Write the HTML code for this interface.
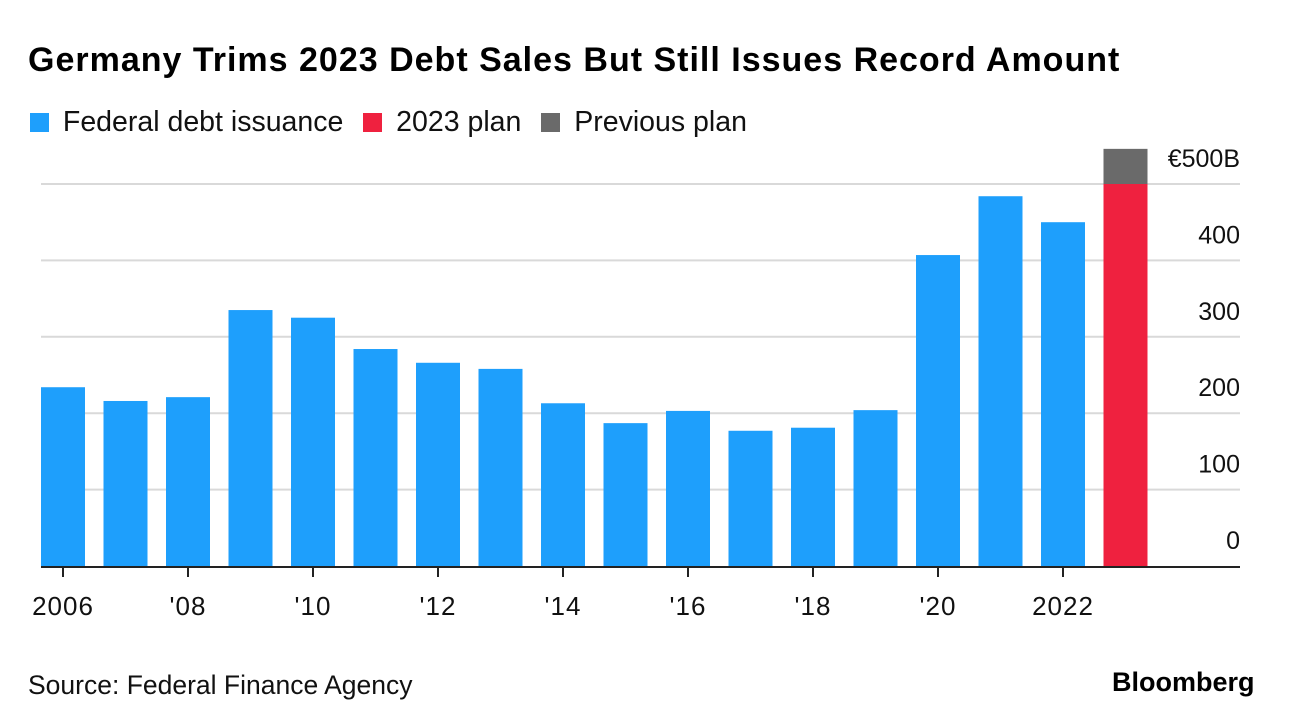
<!DOCTYPE html>
<html><head><meta charset="utf-8"><style>
body{margin:0;width:1292px;height:726px;background:#fff;font-family:"Liberation Sans",sans-serif;overflow:hidden;position:relative}
.t{position:absolute;white-space:nowrap}
</style></head><body>
<div class="t" style="left:28px;top:41px;font-size:34px;font-weight:bold;color:#000;letter-spacing:1px">Germany Trims 2023 Debt Sales But Still Issues Record Amount</div>
<div class="t" style="left:30px;top:106px;font-size:28.5px;color:#111">
<span><span style="display:inline-block;width:19px;height:19px;background:#1e9ffc;vertical-align:-1px;margin-right:6px"></span> Federal debt issuance</span>
<span style="margin-left:12px"><span style="display:inline-block;width:19px;height:19px;background:#ef213f;vertical-align:-1px;margin-right:6px"></span> 2023 plan</span>
<span style="margin-left:12px"><span style="display:inline-block;width:19px;height:19px;background:#6a6a6a;vertical-align:-1px;margin-right:6px"></span> Previous plan</span>
</div>
<svg id="chart" width="1292" height="726" style="position:absolute;left:0;top:0"></svg>
<div class="t" style="left:28px;top:670px;font-size:26.5px;color:#111">Source: Federal Finance Agency</div>
<div class="t" style="left:1112px;top:667px;font-size:27px;font-weight:bold;color:#000;letter-spacing:0px">Bloomberg</div>
<script>
const years=[2006,2007,2008,2009,2010,2011,2012,2013,2014,2015,2016,2017,2018,2019,2020,2021,2022];
const issuance=[234,216,221,335,325,284,266,258,213,187,203,177,181,204,407,484,450];
const planYear=2023;
const plan2023=[500];
const previousPlan=[546];
const yTicks=[0,100,200,300,400,500];
const yTickLabels=["0","100","200","300","400","€500B"];
const xTickYears=[2006,2008,2010,2012,2014,2016,2018,2020,2022];
const xTickLabels=["2006","'08","'10","'12","'14","'16","'18","'20","2022"];
const NS="http://www.w3.org/2000/svg";
const svg=document.getElementById('chart');
const y0=566,pxPer=(566-184)/500;
const y=v=>y0-v*pxPer;
const bw=44,step=62.5;
const x=yr=>41+(yr-2006)*step;
function mk(t,a){const e=document.createElementNS(NS,t);for(const k in a)e.setAttribute(k,a[k]);svg.appendChild(e);return e;}
yTicks.forEach((v,i)=>{
 if(v>0){const l=mk('line',{x1:41,x2:1240,y1:y(v),y2:y(v),stroke:'#d9d9d9','stroke-width':2});
 
 }
 const tx=mk('text',{x:1240,y:y(v)-17,'text-anchor':'end','font-size':25,fill:'#111','font-family':'Liberation Sans, sans-serif'});
 tx.textContent=yTickLabels[i];
 
 
});
years.forEach((yr,i)=>{
 const r=mk('rect',{x:x(yr),y:y(issuance[i]),width:bw,height:y0-y(issuance[i]),fill:'#1e9ffc'});
 
 
});
const pg=mk('rect',{x:x(planYear),y:y(previousPlan[0]),width:bw,height:y(plan2023[0])-y(previousPlan[0]),fill:'#6a6a6a'});


const pr=mk('rect',{x:x(planYear),y:y(plan2023[0]),width:bw,height:y0-y(plan2023[0]),fill:'#ef213f'});


const ax=mk('line',{x1:41,x2:1240,y1:y0+1,y2:y0+1,stroke:'#222','stroke-width':2});


xTickYears.forEach((yr,i)=>{
 const cx=x(yr)+bw/2;
 const tk=mk('line',{x1:cx,x2:cx,y1:y0+2,y2:y0+11,stroke:'#222','stroke-width':2});
 
 
 const tx=mk('text',{x:cx,y:615,'text-anchor':'middle','font-size':26,'letter-spacing':1,fill:'#111','font-family':'Liberation Sans, sans-serif'});
 tx.textContent=xTickLabels[i];
 
 
});
</script>
</body></html>
